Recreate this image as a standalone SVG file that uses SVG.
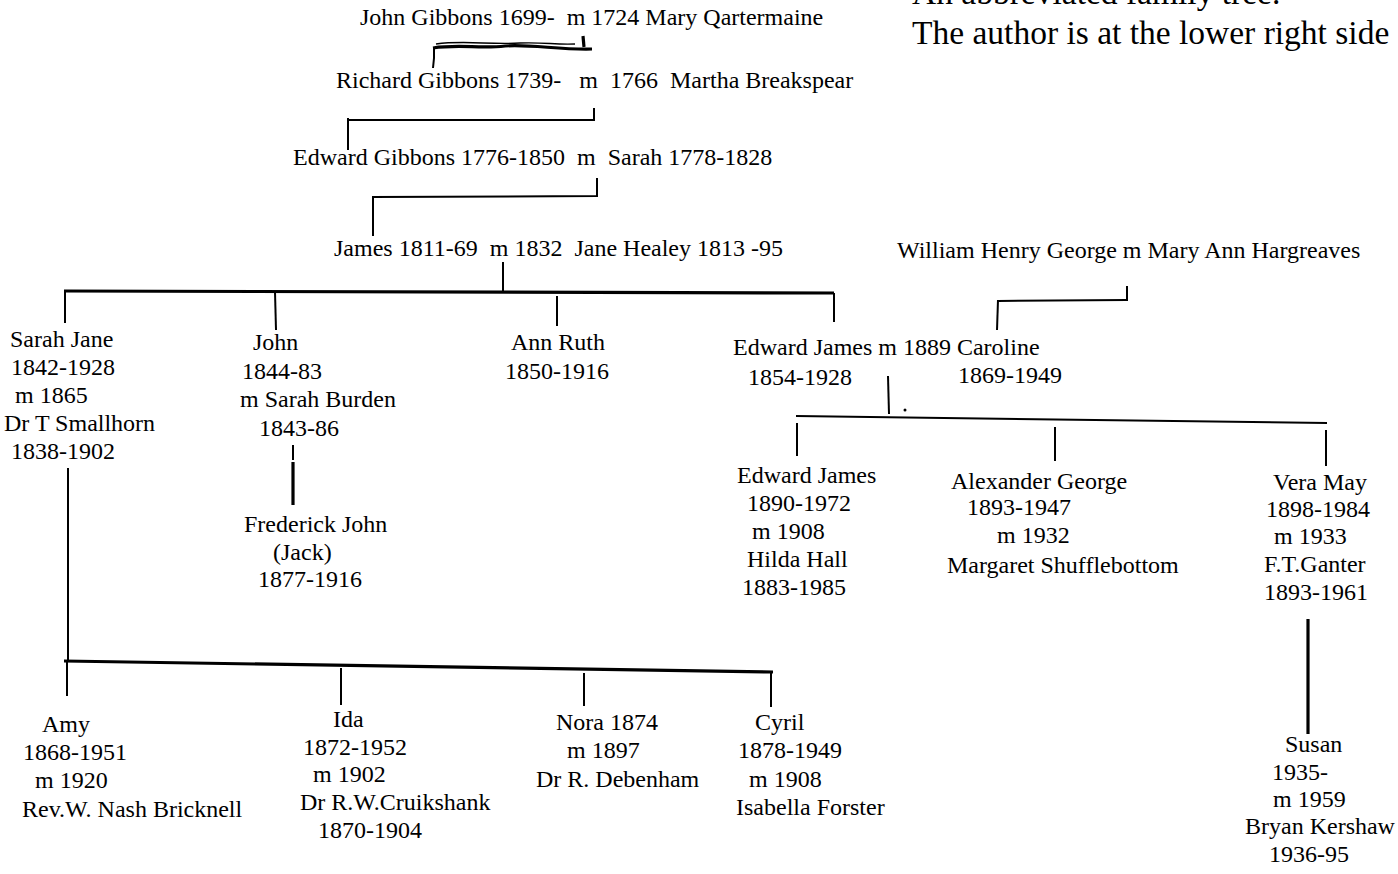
<svg xmlns="http://www.w3.org/2000/svg" width="1398" height="874" viewBox="0 0 1398 874">
<style>
  text { font-family: "Liberation Serif", "Times New Roman", serif; font-size: 24px; fill: #000; }
  .title { font-size: 33.5px; }
  .ln { stroke: #000; stroke-width: 2; fill: none; stroke-linecap: butt; }
  .thick { stroke-width: 3.2; }
  .thin { stroke-width: 1.4; }
</style>
<rect width="1398" height="874" fill="#fff"/>

<g id="caption">
  <text class="title" x="912" y="4">An abbreviated family tree.</text>
  <text class="title" x="912" y="44">The author is at the lower right side</text>
</g>

<g id="connectors">
  <!-- John Gibbons to Richard -->
  <path class="ln thick" d="M433,48 C460,44 480,49 505,46 C530,44 560,50 592,49"/>
  <path class="ln thin" d="M436,44 C465,40 490,45 520,43 C545,42 555,45 575,44"/>
  <path class="ln" d="M434,47 L434,58 L433,68"/>
  <path class="ln thick" d="M583,36 L584,47"/>
  <!-- Richard to Edward -->
  <path class="ln" d="M348,120 L594,120 M594,108 L594,121"/>
  <path class="ln" d="M348,118 L348,150"/>
  <!-- Edward to James -->
  <path class="ln" d="M597,178 L597,196 M372,197 L598,196"/>
  <path class="ln" d="M373,196 L373,236"/>
  <!-- James to children -->
  <path class="ln" d="M503,262 L503,292"/>
  <path class="ln thick" d="M64,291 L834,293"/>
  <path class="ln" d="M65,292 L65,323"/>
  <path class="ln" d="M275,292 L276,330"/>
  <path class="ln" d="M557,296 L557,326"/>
  <path class="ln" d="M834,293 L834,322"/>
  <!-- John to Frederick -->
  <path class="ln" d="M293,445 L293,460"/>
  <path class="ln thick" d="M293,462 L293,505"/>
  <!-- William Henry George to Caroline -->
  <path class="ln" d="M1127,286 L1127,301"/>
  <path class="ln" d="M998,301 L1127,300"/>
  <path class="ln" d="M998,300 L997,330"/>
  <!-- Edward James & Caroline to children -->
  <path class="ln" d="M888,376 L889,414"/>
  <circle cx="905" cy="410" r="1.5" fill="#000"/>
  <path class="ln" d="M796,416 L1327,423"/>
  <path class="ln" d="M797,423 L797,456"/>
  <path class="ln" d="M1055,427 L1055,461"/>
  <path class="ln" d="M1326,430 L1326,466"/>
  <!-- Vera May to Susan -->
  <path class="ln thick" d="M1308,619 L1308,734"/>
  <!-- Sarah Jane to children -->
  <path class="ln" d="M68,468 L68,662"/>
  <path class="ln" d="M67,662 L67,696"/>
  <path class="ln thick" d="M64,661 L773,672"/>
  <path class="ln" d="M341,668 L341,705"/>
  <path class="ln" d="M584,673 L584,706"/>
  <path class="ln" d="M771,672 L771,707"/>
</g>

<g id="john-gibbons">
  <text x="360" y="25" xml:space="preserve">John Gibbons 1699-  m 1724 Mary Qartermaine</text>
</g>
<g id="richard-gibbons">
  <text x="336" y="88" xml:space="preserve">Richard Gibbons 1739-   m  1766  Martha Breakspear</text>
</g>
<g id="edward-gibbons">
  <text x="293" y="165" xml:space="preserve">Edward Gibbons 1776-1850  m  Sarah 1778-1828</text>
</g>
<g id="james">
  <text x="334" y="256" xml:space="preserve">James 1811-69  m 1832  Jane Healey 1813 -95</text>
</g>
<g id="william-henry-george">
  <text x="897" y="258">William Henry George m Mary Ann Hargreaves</text>
</g>

<g id="sarah-jane">
  <text x="10" y="347">Sarah Jane</text>
  <text x="11" y="375">1842-1928</text>
  <text x="15" y="403">m 1865</text>
  <text x="4" y="431">Dr T Smallhorn</text>
  <text x="11" y="459">1838-1902</text>
</g>
<g id="john">
  <text x="253" y="350">John</text>
  <text x="242" y="379">1844-83</text>
  <text x="240" y="407">m Sarah Burden</text>
  <text x="259" y="436">1843-86</text>
</g>
<g id="frederick-john">
  <text x="244" y="532">Frederick John</text>
  <text x="273" y="560">(Jack)</text>
  <text x="258" y="587">1877-1916</text>
</g>
<g id="ann-ruth">
  <text x="511" y="350">Ann Ruth</text>
  <text x="505" y="379">1850-1916</text>
</g>
<g id="edward-james-sr">
  <text x="733" y="355">Edward James m 1889 Caroline</text>
  <text x="748" y="385">1854-1928</text>
  <text x="958" y="383">1869-1949</text>
</g>

<g id="edward-james-jr">
  <text x="737" y="483">Edward James</text>
  <text x="747" y="511">1890-1972</text>
  <text x="752" y="539">m 1908</text>
  <text x="747" y="567">Hilda Hall</text>
  <text x="742" y="595">1883-1985</text>
</g>
<g id="alexander-george">
  <text x="951" y="489">Alexander George</text>
  <text x="967" y="515">1893-1947</text>
  <text x="997" y="543">m 1932</text>
  <text x="947" y="573">Margaret Shufflebottom</text>
</g>
<g id="vera-may">
  <text x="1273" y="490">Vera May</text>
  <text x="1266" y="517">1898-1984</text>
  <text x="1274" y="544">m 1933</text>
  <text x="1264" y="572">F.T.Ganter</text>
  <text x="1264" y="600">1893-1961</text>
</g>
<g id="susan">
  <text x="1285" y="752">Susan</text>
  <text x="1272" y="780">1935-</text>
  <text x="1273" y="807">m 1959</text>
  <text x="1245" y="834">Bryan Kershaw</text>
  <text x="1269" y="862">1936-95</text>
</g>

<g id="amy">
  <text x="42" y="732">Amy</text>
  <text x="23" y="760">1868-1951</text>
  <text x="35" y="788">m 1920</text>
  <text x="22" y="817">Rev.W. Nash Bricknell</text>
</g>
<g id="ida">
  <text x="333" y="727">Ida</text>
  <text x="303" y="755">1872-1952</text>
  <text x="313" y="782">m 1902</text>
  <text x="300" y="810">Dr R.W.Cruikshank</text>
  <text x="318" y="838">1870-1904</text>
</g>
<g id="nora">
  <text x="556" y="730">Nora 1874</text>
  <text x="567" y="758">m 1897</text>
  <text x="536" y="787">Dr R. Debenham</text>
</g>
<g id="cyril">
  <text x="755" y="730">Cyril</text>
  <text x="738" y="758">1878-1949</text>
  <text x="749" y="787">m 1908</text>
  <text x="736" y="815">Isabella Forster</text>
</g>
</svg>
